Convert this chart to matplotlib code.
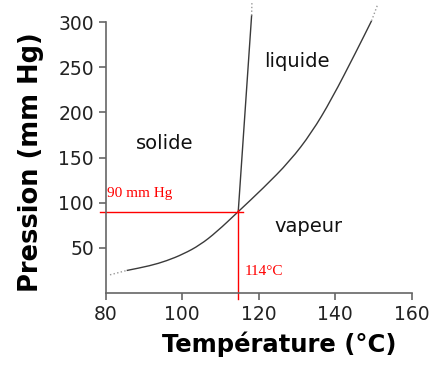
import numpy as np
import matplotlib.pyplot as plt
from matplotlib.path import Path
from matplotlib.patches import PathPatch

# courbe de vaporisation
vap_T = [85.49, 91.58, 95.95, 100.29, 104.65, 109.02, 114.67, 121.20,
         128.18, 133.86, 139.08, 145.62, 149.54]
vap_P = [24.8, 30.0, 35.5, 43.0, 53.0, 67.5, 90.0, 116.0,
         146.0, 177.4, 214.4, 268.1, 301.4]
vap_T_lo = [81.12, 85.49]
vap_P_lo = [20.0, 24.8]
vap_T_hi = [149.54, 151.19]
vap_P_hi = [301.4, 320.0]

# courbe de fusion
fus_T = [114.67, 118.17]
fus_P = [90.0, 307.3]
fus_T_hi = [118.17, 118.25]
fus_P_hi = [307.3, 322.0]

# point triple
tp_T = 114.67
tp_P = 90.0


def smooth_path(xs, ys):
    # tracé lissé : segments quadratiques passant par les milieux
    pts = list(zip(xs, ys))
    verts = [pts[0]]
    codes = [Path.MOVETO]
    mid = ((pts[0][0] + pts[1][0]) / 2, (pts[0][1] + pts[1][1]) / 2)
    verts.append(mid)
    codes.append(Path.LINETO)
    for i in range(1, len(pts) - 1):
        nxt = ((pts[i][0] + pts[i + 1][0]) / 2, (pts[i][1] + pts[i + 1][1]) / 2)
        verts += [pts[i], nxt]
        codes += [Path.CURVE3, Path.CURVE3]
    verts.append(pts[-1])
    codes.append(Path.LINETO)
    return Path(verts, codes)


fig = plt.figure(figsize=(4.35, 3.75), dpi=100)
ax = fig.add_axes([0.243, 0.219, 0.703, 0.722])

line_col = '#3a3a3a'
dot_col = '#999999'
ax.add_patch(PathPatch(smooth_path(vap_T, vap_P), fill=False, edgecolor=line_col,
                       lw=1.0, clip_on=False))
ax.plot(vap_T_lo, vap_P_lo, color=dot_col, lw=1.0, ls=':', clip_on=False)
ax.plot(vap_T_hi, vap_P_hi, color=dot_col, lw=1.0, ls=':', clip_on=False)
ax.plot(fus_T, fus_P, color=line_col, lw=1.0, clip_on=False)
ax.plot(fus_T_hi, fus_P_hi, color=dot_col, lw=1.0, ls=':', clip_on=False)

# repères du point triple
ax.plot([78.5, tp_T + 1.15], [tp_P, tp_P], color='red', lw=1.0, clip_on=False)
ax.plot([tp_T, tp_T], [tp_P + 2, -6.7], color='red', lw=1.0, clip_on=False)
ax.text(80.26, 106.5, '90 mm Hg', color='red', fontsize=11,
        family='Liberation Serif', va='baseline', ha='left')
ax.text(116.4, 20, '114°C', color='red', fontsize=11,
        family='Liberation Serif', va='baseline', ha='left')

# zones
ax.text(130.0, 256.7, 'liquide', fontsize=14, ha='center', va='center', color='#111111')
ax.text(95.3, 165.6, 'solide', fontsize=14, ha='center', va='center', color='#111111')
ax.text(133.0, 73, 'vapeur', fontsize=14, ha='center', va='center', color='#111111')

ax.set_xlim(80, 160)
ax.set_ylim(0, 300)
ax.set_xticks([80, 100, 120, 140, 160])
ax.set_yticks([50, 100, 150, 200, 250, 300])
for s in ['top', 'right']:
    ax.spines[s].set_visible(False)
for s in ['left', 'bottom']:
    ax.spines[s].set_color('#666666')
    ax.spines[s].set_linewidth(1.2)
ax.tick_params(colors='#666666', labelcolor='#222222', labelsize=13.5, length=5, width=1.2)

ax.set_xlabel('Température (°C)', fontsize=17.5, fontweight='bold')
ax.set_ylabel('Pression (mm Hg)', fontsize=18.5, fontweight='bold')
ax.xaxis.set_label_coords(0.569, -0.141)
ax.yaxis.set_label_coords(-0.2016, 0.483)

fig.savefig('out.png', dpi=100)
